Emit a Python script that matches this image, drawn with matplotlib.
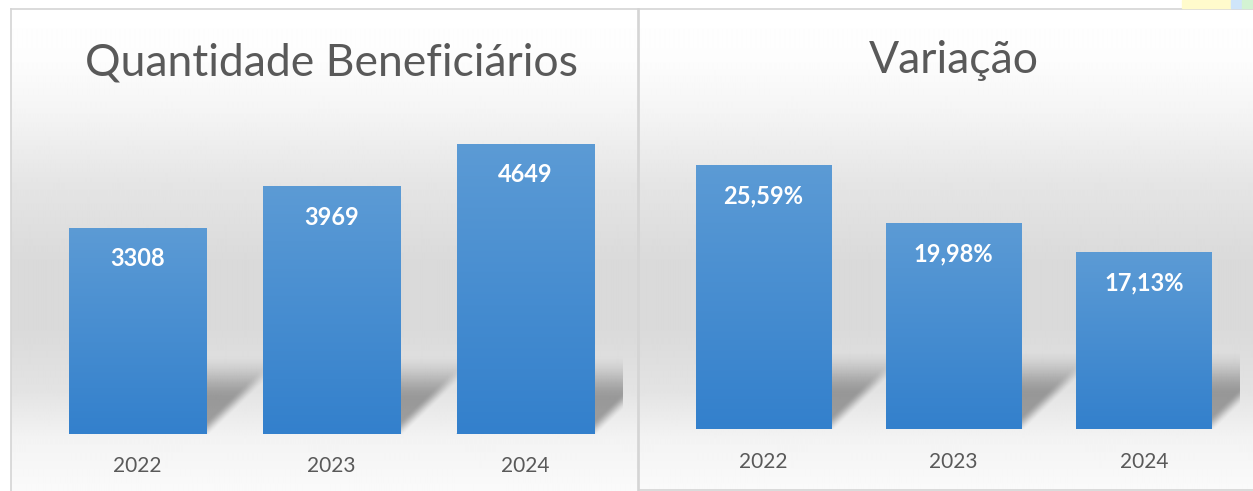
import numpy as np
import matplotlib.pyplot as plt

# data
anos = ['2022', '2023', '2024']
beneficiarios = [3308, 3969, 4649]
rotulos_benef = ['3308', '3969', '4649']
variacao = [25.59, 19.98, 17.13]
rotulos_var = ['25,59%', '19,98%', '17,13%']

W, H = 1253, 491
FONT = 'Lato'
TXT = '#595959'
BAR_TOP = np.array([0x5c, 0x9b, 0xd5]) / 255
BAR_BOT = np.array([0x33, 0x80, 0xcc]) / 255

fig = plt.figure(figsize=(W / 100, H / 100), dpi=100)
fig.patch.set_facecolor('white')


def px_axes(x0, y0, x1, y1, z=1):
    # rectangle in pixels measured from the top-left corner
    return fig.add_axes([x0 / W, 1 - y1 / H, (x1 - x0) / W, (y1 - y0) / H], zorder=z)


def panel_bg(x0, y0, x1, y1):
    bg = px_axes(x0, y0, x1, y1, z=0)
    rows = np.arange(y0, y1)
    sy = [9, 60, 110, 180, 260, 330, 390, 440, 491]
    sv = [1.0, 0.99, 0.96, 0.90, 0.855, 0.855, 0.89, 0.955, 0.98]
    g = np.interp(rows, sy, sv)
    bg.imshow(np.repeat(g[:, None], 4, axis=1), cmap='gray', vmin=0, vmax=1,
              aspect='auto', extent=[0, 1, 0, 1], interpolation='bilinear')
    bg.set_xticks([])
    bg.set_yticks([])
    for s in bg.spines.values():
        s.set_color('#d4d4d4')
        s.set_linewidth(1.2)
    return bg


def smooth(a, b, v):
    t = np.clip((v - a) / (b - a), 0, 1)
    return t * t * (3 - 2 * t)


def draw_panel(ax, valores, rotulos, ymax, largura=0.71):
    ax.set_xlim(-0.5, 2.5)
    ax.set_ylim(0, ymax)
    ax.patch.set_alpha(0)
    for s in ax.spines.values():
        s.set_visible(False)
    ax.set_yticks([])
    ax.set_xticks([])

    # pixel scale of this axes
    bb = ax.get_window_extent()
    ppx = bb.width / 3.0
    ppy = bb.height / ymax

    # soft perspective shadows behind the bars
    sh_h = 72 / ppy
    sh_s = 75 / ppx
    nx, ny = 500, 200
    xs = np.linspace(-0.5, 2.5, nx)
    ys = np.linspace(0, sh_h * 1.3, ny)
    X, Y = np.meshgrid(xs, ys)
    alpha = np.zeros_like(X)
    for i in range(len(valores)):
        x1 = i + largura / 2
        u = X - sh_s * Y / sh_h
        d = (x1 - u) * ppx  # pixels inside the diagonal edge
        edge = smooth(-4, 14, d)
        fade = 1 - smooth(0.45, 1.12, Y / sh_h)
        alpha = np.maximum(alpha, 0.34 * edge * fade * (u > i - largura / 2))
    rgba = np.zeros((ny, nx, 4))
    rgba[..., 3] = alpha
    ax.imshow(rgba, extent=[-0.5, 2.5, 0, sh_h * 1.3], origin='lower',
              aspect='auto', interpolation='bilinear', zorder=1)

    bars = ax.bar(range(len(valores)), valores, width=largura,
                  color=BAR_BOT, linewidth=0, zorder=2)
    grad = np.linspace(0, 1, 256)[:, None, None]
    img = BAR_TOP * grad + BAR_BOT * (1 - grad)
    for b, rot in zip(bars, rotulos):
        x0, w, h = b.get_x(), b.get_width(), b.get_height()
        im = ax.imshow(img, extent=[x0, x0 + w, 0, h], origin='lower',
                       aspect='auto', interpolation='bilinear', zorder=3)
        im.set_clip_path(b)
        ax.annotate(rot, (x0 + w / 2, h), xytext=(0, -38.5),
                    textcoords='offset pixels', ha='center', va='baseline',
                    color='white', fontsize=17, fontweight='bold',
                    family=FONT, zorder=4)
    for i, a in enumerate(anos):
        ax.annotate(a, (i, 0), xytext=(0, -38.5), textcoords='offset pixels',
                    ha='center', va='baseline', color=TXT, fontsize=15,
                    family=FONT, annotation_clip=False)
    ax.set_ylim(0, ymax)


# left panel: Quantidade Beneficiarios
panel_bg(11, 9, 638, 493)
ax1 = px_axes(40.5, 122, 622.5, 434)
draw_panel(ax1, beneficiarios, rotulos_benef, 5000)
fig.text(331.5 / W, 1 - 75 / H, 'Quantidade Beneficiários', ha='center',
         va='baseline', fontsize=32, color=TXT, family=FONT)

# right panel: Variacao
panel_bg(639, 9, 1255, 489.5)
ax2 = px_axes(668.5, 140, 1239, 429)
draw_panel(ax2, variacao, rotulos_var, 28)
fig.text(953.5 / W, 1 - 73 / H, 'Variação', ha='center',
         va='baseline', fontsize=32, color=TXT, family=FONT)

# little coloured strips at the top right corner of the screenshot
for x0, x1, c in [(1182, 1231, '#fffbcc'), (1231, 1242, '#cfe5fa'),
                  (1242, 1253, '#d3f3d3')]:
    fig.patches.append(plt.Rectangle((x0 / W, 1 - 8 / H), (x1 - x0) / W, 8 / H,
                                     transform=fig.transFigure, color=c,
                                     zorder=5))

fig.savefig('out.png', dpi=100, facecolor='white')
